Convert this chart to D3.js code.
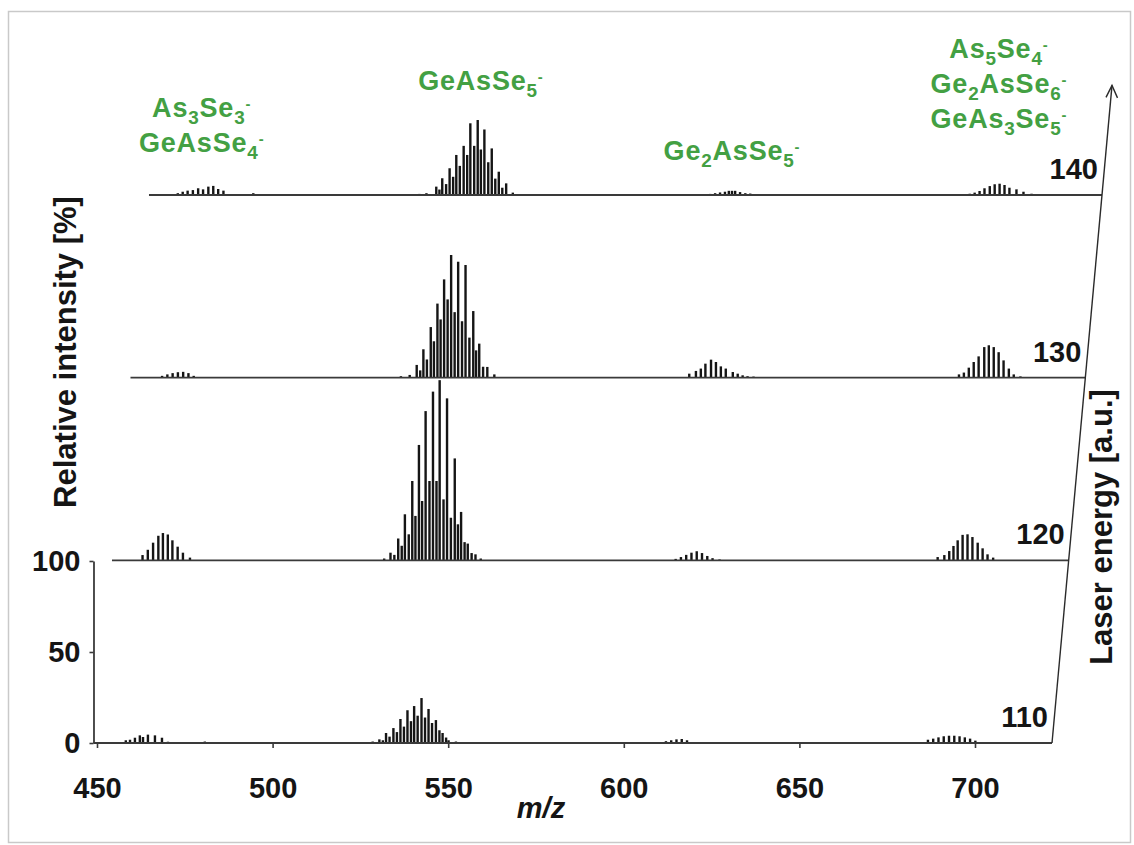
<!DOCTYPE html>
<meta charset="utf-8">
<script src="https://d3js.org/d3.v7.min.js"></script>
<style>
  body { margin: 0; background: #fff; }
  text { font-family: "Liberation Sans", Arial, sans-serif; }
</style>
<div id="chart"></div>
<script>
// laser energies, one spectrum each (offset in depth)
var energies = [110, 120, 130, 140];

// peaks as [m/z, relative intensity %]
var spec110 = [
  [458.2,1.5],[459.4,1.8],[460.8,2.9],[462.2,4.2],[463.1,3.3],[464.5,4.6],[466.5,4.2],[468.5,2.9],[470.2,0.7],[480.7,0.8],
  [528.5,0.8],[530.4,2],[531.4,1.5],[532.3,5.5],[533.3,3.5],[534.4,8.2],[535.4,6],[536.4,13.2],[537.4,9],[538.4,18],
  [539.4,12],[540.3,20.3],[541.3,15],[542.4,24.7],[543.4,14],[544.4,18.7],[545.4,11],[546.5,12.6],[547.5,7],[548.4,5.5],
  [549.4,3],[550.1,1.5],[552.2,0.8],
  [610.5,0.5],[612,1],[613.5,1.5],[615,2],[616.5,2.2],[618,1.5],[619.5,0.5],
  [686.6,1.8],[688.1,2.4],[689.6,3.1],[691.1,3.7],[692.6,4],[694.1,4],[695.6,3.7],[697.1,3.1],[698.6,2.4],[700.1,1.3]
];
var spec120 = [
  [457.7,2.9],[459.2,5.8],[460.7,9.7],[462.2,13.5],[463.5,15],[464.9,14.2],[466.2,11],[467.7,7.5],[469.2,4.2],[471.2,1.5],
  [526.5,1],[528.3,4.2],[529.4,3],[530.5,12],[531.5,8],[532.4,25.3],[533.5,14.3],[534.5,43.6],[535.4,24.4],[536.4,63.4],
  [537.3,32.6],[538.3,82],[539.4,43.6],[540.4,92.7],[541.4,43.6],[542.3,99],[543.4,33.5],[544.4,89],[545.5,23.4],[546.6,56],
  [547.5,19.8],[548.4,26.6],[549.4,10],[550.3,9.2],[551.4,4],[552.5,3.3],[554,1],
  [609.5,0.8],[611,1.8],[612.5,3],[614,4.2],[615.5,5],[617,4],[618.5,2.4],[620,1.2],[622,0.5],
  [684.1,1.8],[686,2.9],[687.4,5.1],[688.6,7.9],[689.8,11],[691.2,14],[692.6,14.3],[694,12.8],[695.5,9.7],[696.9,6.6],
  [698.3,3.3],[699.9,1.5]
];
var spec130 = [
  [458,1],[459.5,1.8],[461,2.5],[462.5,3],[464,3.2],[465.5,2.5],[467,1],
  [526,0.8],[528.5,1.5],[530.5,7],[531.5,4],[532.4,15.6],[533.4,10],[534.5,27.8],[535.4,20],[536.4,40.7],[537.3,32],
  [538.3,54],[539.3,43],[540.3,67.4],[541.3,36],[542.3,63.7],[543.4,31],[544.4,61.9],[545.5,22],[546.6,36.6],[547.4,15],
  [548.3,18.7],[549.4,6],[550.6,5.9],[552.6,1.8],
  [608.1,2.2],[610,3.7],[611.4,5],[612.7,7.7],[614.3,9.9],[615.7,8.6],[617.1,6.2],[618.5,5],[620.5,3.1],[621.9,2.2],
  [623.3,1.3],[624.7,0.8],[626.4,0.6],
  [684.9,1.8],[686.3,2.8],[687.7,5.5],[689.1,8.6],[690.5,11.7],[692.1,16.8],[693.4,17.8],[694.8,16.8],[696.2,14],[697.6,9.5],
  [699.1,5],[700.5,1.8],[702.4,0.7]
];
var spec140 = [
  [457.2,1],[458.6,1.8],[460,2.4],[461.5,2.7],[463,3.7],[464.4,3.1],[465.9,4.6],[467.3,5],[468.7,3.3],[470.2,2.4],[472.1,0.5],[478.7,1],
  [526,0.6],[528,1],[530.8,4.6],[531.7,3],[532.5,9.2],[533.6,6],[534.6,14.7],[535.6,10],[536.5,22],[537.5,16],[538.6,27],
  [539.6,22],[540.5,39.4],[541.6,27],[542.6,41.2],[543.5,25],[544.5,36],[545.6,18],[546.6,25.6],[547.6,9],[548.6,12.8],
  [549.6,4],[550.7,6.4],[552.6,1.3],
  [608.8,0.6],[610.2,1],[611.6,1.4],[613,1.8],[614.1,2.3],[615,2.3],[615.9,2.3],[617.3,1.6],[618.8,1],[620.2,0.8],[622.2,0.5],[624.2,0.4],
  [682.7,0.7],[684.1,1.3],[685.5,2.2],[686.9,3.7],[688.4,4.9],[689.8,5.9],[691.2,6.2],[692.6,5.5],[694,4],[696,3.1],[698,1.8],[700.3,0.7]
];
var spectra = [spec110, spec120, spec130, spec140];

// axis ticks
var mzTicks = [450, 500, 550, 600, 650, 700];
var intTicks = [0, 50, 100];

// ion annotations (cluster m/z and formula lines)
var ionMz = [464, 543.5, 615, 691];
var ionNames = [
  ["As3Se3-", "GeAsSe4-"],
  ["GeAsSe5-"],
  ["Ge2AsSe5-"],
  ["As5Se4-", "Ge2AsSe6-", "GeAs3Se5-"]
];

var width = 1134, height = 845;
var green = "#43a043", ink = "#151515";

var svg = d3.select("#chart").append("svg")
  .attr("width", width).attr("height", height);

// light frame around figure
svg.append("rect")
  .attr("x", 8.5).attr("y", 11.5).attr("width", 1122).attr("height", 831)
  .attr("fill", "none").attr("stroke", "#c9c9c9").attr("stroke-width", 1.5);

// scales
var x = d3.scaleLinear().domain([450, 700]).range([97, 975]);
var y = d3.scaleLinear().domain([0, 100]).range([743, 561]);
var shiftX = d3.scaleLinear().domain([110, 140]).range([0, 55.5]);
var baseY = d3.scaleLinear().domain([110, 140]).range([743, 195]);
var slantX = d3.scaleLinear().domain([110, 140]).range([1052, 1102]);
var mzStart = 449;

// spectra, back to front
energies.forEach(function(e, i) {
  var g = svg.append("g")
    .attr("transform", "translate(" + shiftX(e) + "," + (baseY(e) - y(0)) + ")");

  g.selectAll("line.peak")
    .data(spectra[i])
    .join("line")
      .attr("class", "peak")
      .attr("x1", d => x(d[0])).attr("x2", d => x(d[0]))
      .attr("y1", y(0)).attr("y2", d => y(d[1]))
      .attr("stroke", ink)
      .attr("stroke-width", 2.4);

  // baseline up to the energy axis
  svg.append("line")
    .attr("x1", x(mzStart) + shiftX(e)).attr("x2", slantX(e))
    .attr("y1", baseY(e)).attr("y2", baseY(e))
    .attr("stroke", "#3a3a3a").attr("stroke-width", 1.8);

  svg.append("text")
    .attr("x", slantX(e) - 4).attr("y", baseY(e) - 16)
    .attr("text-anchor", "end")
    .attr("font-size", 29).attr("font-weight", "bold").attr("fill", ink)
    .text(e);
});

// energy axis with arrow
var eTop = 146;
var tip = [slantX(eTop), baseY(eTop)];
svg.append("line")
  .attr("x1", slantX(110)).attr("y1", baseY(110))
  .attr("x2", tip[0]).attr("y2", tip[1])
  .attr("stroke", "#2a2a2a").attr("stroke-width", 1.4);
svg.append("path")
  .attr("d", "M" + (tip[0] - 6) + "," + (tip[1] + 12) + "L" + tip[0] + "," + tip[1] + "L" + (tip[0] + 5.5) + "," + (tip[1] + 12.5))
  .attr("fill", "none").attr("stroke", "#2a2a2a").attr("stroke-width", 1.4);

// x axis
var xAxis = svg.append("g")
  .attr("transform", "translate(0," + y(0) + ")")
  .call(d3.axisBottom(x).tickValues(mzTicks).tickSizeInner(5).tickSizeOuter(0).tickPadding(29));
xAxis.select(".domain").remove();
xAxis.selectAll("line").attr("stroke", "#3a3a3a").attr("stroke-width", 1.6);
xAxis.selectAll("text")
  .attr("font-size", 29).attr("font-weight", "bold").attr("fill", ink)
  .style("font-family", "'Liberation Sans', Arial, sans-serif");

// y axis
var yAxis = svg.append("g")
  .attr("transform", "translate(" + (x(mzStart)) + ",0)")
  .call(d3.axisLeft(y).tickValues(intTicks).tickSizeInner(4).tickSizeOuter(0).tickPadding(9));
yAxis.select(".domain").attr("stroke", "#3a3a3a").attr("stroke-width", 1.8);
yAxis.selectAll("line").attr("stroke", "#3a3a3a").attr("stroke-width", 1.6);
yAxis.selectAll("text")
  .attr("font-size", 29).attr("font-weight", "bold").attr("fill", ink)
  .style("font-family", "'Liberation Sans', Arial, sans-serif");

// axis titles
svg.append("text")
  .attr("transform", "translate(76,352) rotate(-90)")
  .attr("text-anchor", "middle")
  .attr("font-size", 31).attr("font-weight", "bold").attr("fill", ink)
  .text("Relative intensity [%]");

svg.append("text")
  .attr("x", 541).attr("y", 818)
  .attr("text-anchor", "middle")
  .attr("font-size", 29).attr("font-weight", "bold").attr("font-style", "italic").attr("fill", ink)
  .text("m/z");

svg.append("text")
  .attr("transform", "translate(1112,527) rotate(-90)")
  .attr("text-anchor", "middle")
  .attr("font-size", 31).attr("font-weight", "bold").attr("fill", ink)
  .text("Laser energy [a.u.]");

// chemical formula with sub/superscripts
function formula(sel, str) {
  var parts = str.match(/[A-Za-z]+|\d+|-/g);
  var cur = 0;
  parts.forEach(function(p) {
    var target = 0, size = null;
    if (/\d/.test(p)) { target = 7; size = "0.7em"; }
    else if (p === "-") { target = -8; size = "0.55em"; }
    sel.append("tspan")
      .attr("dy", target - cur)
      .attr("font-size", size)
      .text(p);
    cur = target;
  });
}

var lastLineY = [152, 90, 160, 128];
var lineGap = 35;
ionNames.forEach(function(lines, k) {
  var cx = x(ionMz[k]) + shiftX(140);
  lines.forEach(function(name, j) {
    var t = svg.append("text")
      .attr("x", cx)
      .attr("y", lastLineY[k] - (lines.length - 1 - j) * lineGap)
      .attr("text-anchor", "middle")
      .attr("font-size", 27).attr("font-weight", "bold")
      .attr("letter-spacing", 0.8)
      .attr("fill", green);
    formula(t, name);
  });
});
</script>
